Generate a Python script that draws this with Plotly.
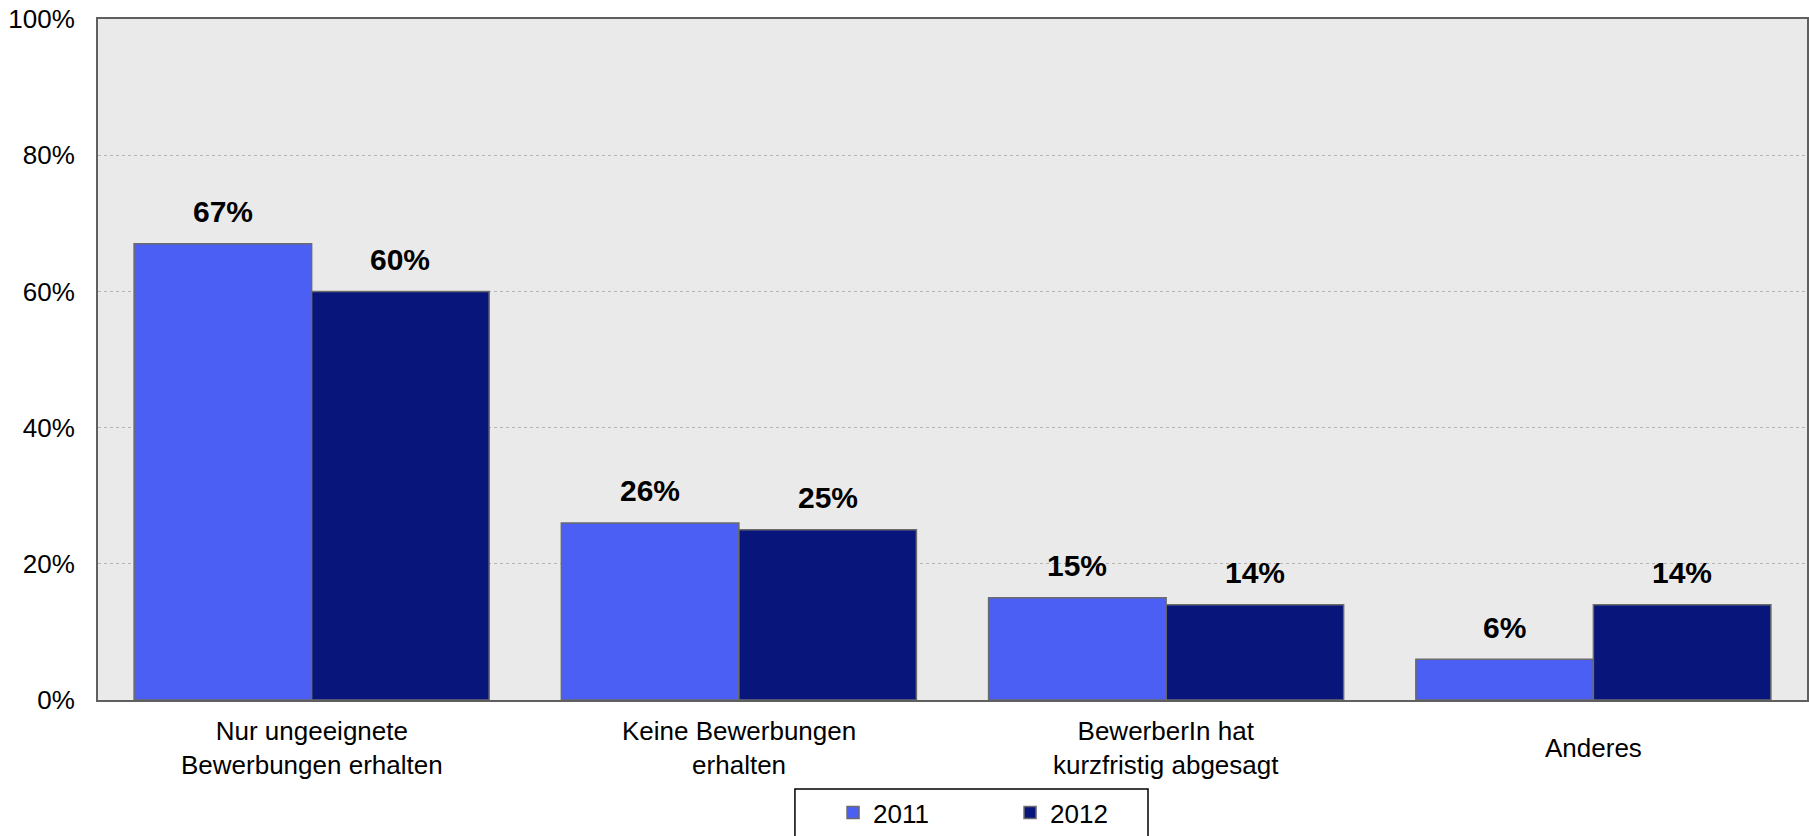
import plotly.graph_objects as go

categories = ["Nur ungeeignete<br>Bewerbungen erhalten", "Keine Bewerbungen<br>erhalten",
              "BewerberIn hat<br>kurzfristig abgesagt", "Anderes"]
series_names = ["2011", "2012"]
values_2011 = [67, 26, 15, 6]
values_2012 = [60, 25, 14, 14]
y_ticks = [0, 20, 40, 60, 80, 100]
y_ticktext = ["0%", "20%", "40%", "60%", "80%", "100%"]

colors = ["#4B5FF5", "#08157A"]
FONT = "Liberation Sans, Arial, sans-serif"

fig = go.Figure()
for name, vals, col in zip(series_names, [values_2011, values_2012], colors):
    fig.add_trace(go.Bar(
        x=categories, y=vals, name=name,
        marker=dict(color=col, line=dict(color="#6B6B6B", width=1.5)),
    ))

annotations = []
for vals, shift in [(values_2011, -88.8), (values_2012, 88.8)]:
    for c, v in zip(categories, vals):
        annotations.append(dict(
            x=c, y=v, xref="x", yref="y", text=f"{v}%", showarrow=False,
            xshift=shift, yshift=32, yanchor="middle",
            font=dict(family=FONT, size=30, color="black", weight="bold"),
        ))
for c in categories:
    annotations.append(dict(
        x=c, y=0, xref="x", yref="y", text=c, showarrow=False,
        yshift=-48, yanchor="middle", align="center",
        font=dict(family=FONT, size=26, color="black"),
    ))

fig.update_layout(
    width=1809, height=836,
    margin=dict(l=98, r=2, t=19, b=136, autoexpand=False),
    paper_bgcolor="white", plot_bgcolor="#EAEAEA",
    barmode="group", bargap=0.169, bargroupgap=0,
    font=dict(family=FONT, size=26, color="black"),
    showlegend=True,
    legend=dict(
        orientation="h", x=0.4301, xanchor="left",
        yref="container", y=0.0562, yanchor="top",
        borderwidth=0, bgcolor="rgba(0,0,0,0)",
        font=dict(family=FONT, size=26, color="black"),
        entrywidth=132, itemwidth=30,
    ),
    annotations=annotations,
    shapes=[dict(
        type="rect", xref="paper", yref="paper",
        x0=0.4078, x1=0.6144, y0=-0.1307, y1=-0.25,
        line=dict(color="black", width=1.5), fillcolor="white", layer="below",
    )],
)
fig.update_xaxes(
    showticklabels=False, showline=True, mirror=True,
    linecolor="#5F5F5F", linewidth=2, showgrid=False, automargin=False,
)
fig.update_yaxes(
    range=[0, 100], tickvals=y_ticks, ticktext=y_ticktext,
    showline=True, mirror=True, linecolor="#5F5F5F", linewidth=2,
    showgrid=True, gridcolor="#B4B4B4", gridwidth=1, griddash="dot",
    ticks="outside", ticklen=16, tickcolor="rgba(0,0,0,0)",
    tickfont=dict(family=FONT, size=26, color="black"), zeroline=False,
    automargin=False, ticklabeloverflow="allow",
)

fig.write_html("out.html", config={"displayModeBar": False},
               post_script="document.body.style.margin='0px';")
